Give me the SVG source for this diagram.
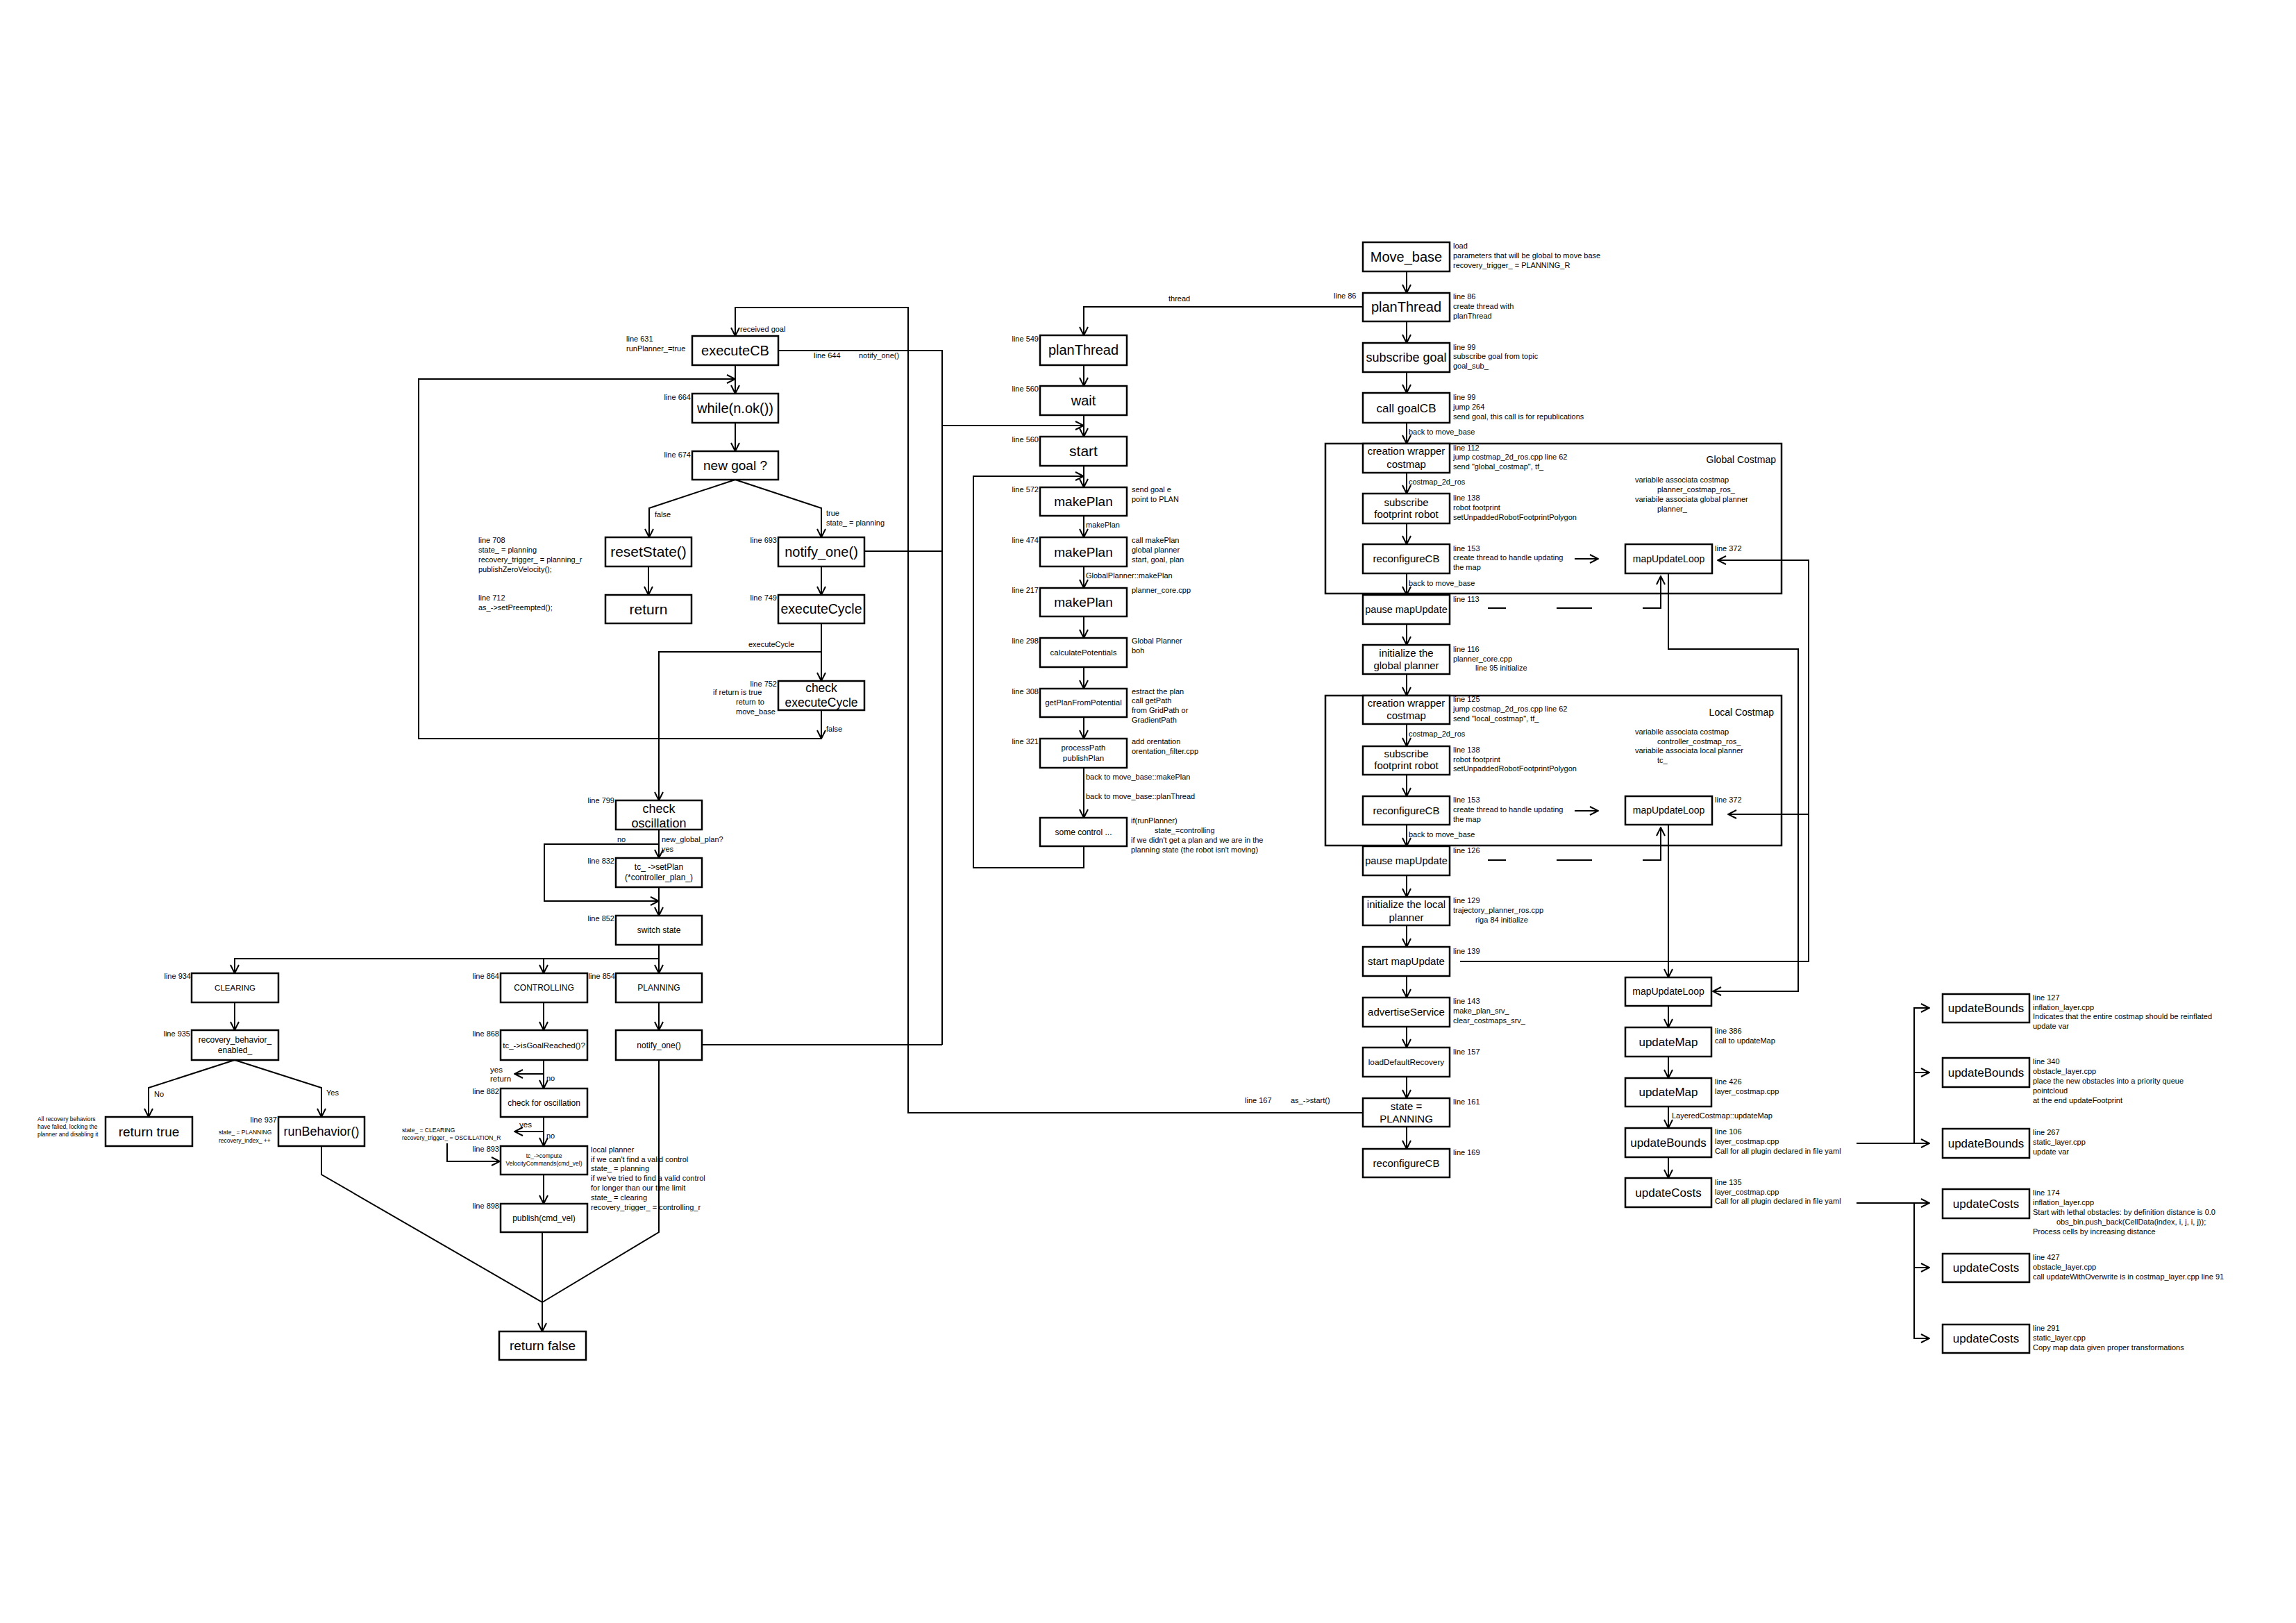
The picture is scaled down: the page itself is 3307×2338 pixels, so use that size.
<svg xmlns="http://www.w3.org/2000/svg" width="3307" height="2338" viewBox="0 0 3307 2338">
<style>
.bg{fill:#fff}
.box{fill:#fff;stroke:#000;stroke-width:2.5}
.frame{fill:none;stroke:#000;stroke-width:2.5}
.ln{fill:none;stroke:#000;stroke-width:2}
.arr{marker-end:url(#ah)}
text{font-family:"Liberation Sans",Arial,sans-serif;fill:#000}
.l{text-anchor:middle}
.t{font-size:11px}
.r{text-anchor:end}
.s8{font-size:8.5px}
.s11{font-size:11.5px}
.s12{font-size:12px}
.s14{font-size:14px}
.s15{font-size:15px}
.s17{font-size:17px}
.s18{font-size:18px}
.s19{font-size:19px}
.s20{font-size:20px}
.s21{font-size:21px}
</style>
<defs>
<marker id="ah" markerUnits="userSpaceOnUse" markerWidth="14" markerHeight="14" viewBox="0 0 14 14" refX="13" refY="7" orient="auto"><path d="M1,1 L13,7 L1,13" fill="none" stroke="#000" stroke-width="2"/></marker>
</defs>
<rect class="bg" x="0" y="0" width="3307" height="2338"/>

<g id="frames">
<rect class="frame" x="1909" y="639" width="657" height="216"/>
<text class="s14 r" x="2558" y="667">Global Costmap</text>
<rect class="frame" x="1909" y="1002" width="657" height="216"/>
<text class="s14 r" x="2555" y="1031">Local Costmap</text>
</g>

<g id="connectors">
<path class="ln arr" d="M1059,526 V567"/>
<path class="ln arr" d="M1183,1023 V1064"/>
<path class="ln arr" d="M1183,1064 H603 V546 H1059"/>
<path class="ln arr" d="M1059,609 V650"/>
<path class="ln arr" d="M1059,691 L935,732 V774"/>
<path class="ln arr" d="M1059,691 L1183,732 V774"/>
<path class="ln arr" d="M934,816 V857"/>
<path class="ln arr" d="M1183,816 V857"/>
<path class="ln arr" d="M1183,898 V981"/>
<path class="ln arr" d="M1183,939 H949 V1153"/>
<path class="ln arr" d="M949,1195 V1236"/>
<path class="ln arr" d="M949,1216 H784 V1298 H949"/>
<path class="ln arr" d="M949,1278 V1319"/>
<path class="ln arr" d="M949,1361 V1402"/>
<path class="ln arr" d="M949,1381 H338 V1402"/>
<path class="ln arr" d="M783,1381 V1402"/>
<path class="ln arr" d="M338,1444 V1484"/>
<path class="ln arr" d="M338,1527 L214,1567 V1609"/>
<path class="ln arr" d="M338,1527 L463,1567 V1609"/>
<path class="ln arr" d="M463,1651 V1692 L781,1876 V1918"/>
<path class="ln arr" d="M783,1444 V1484"/>
<path class="ln arr" d="M783,1527 V1568"/>
<path class="ln arr" d="M783,1547 H741"/>
<path class="ln arr" d="M783,1609 V1651"/>
<path class="ln arr" d="M783,1630 H741"/>
<path class="ln arr" d="M644,1647 V1673 H720"/>
<path class="ln arr" d="M783,1692 V1734"/>
<path class="ln" d="M781,1775 V1876"/>
<path class="ln arr" d="M949,1444 V1484"/>
<path class="ln" d="M949,1527 V1775 L781,1876"/>
<path class="ln" d="M1012,1505 H1357"/>
<path class="ln" d="M1245,794 H1357"/>
<path class="ln" d="M1121,505 H1357 V1505"/>
<path class="ln arr" d="M1357,613 H1561"/>
<path class="ln arr" d="M1963,1603 H1308 V443 H1059 V484"/>
<path class="ln arr" d="M1963,442 H1561 V483"/>
<path class="ln arr" d="M1561,526 V556"/>
<path class="ln arr" d="M1561,598 V629"/>
<path class="ln arr" d="M1561,671 V702"/>
<path class="ln arr" d="M1561,743 V774"/>
<path class="ln arr" d="M1561,816 V847"/>
<path class="ln arr" d="M1561,888 V919"/>
<path class="ln arr" d="M1561,961 V992"/>
<path class="ln arr" d="M1561,1033 V1064"/>
<path class="ln arr" d="M1561,1106 V1178"/>
<path class="ln arr" d="M1561,1219 V1250 H1402 V686 H1561"/>
<path class="ln arr" d="M2026,391 V422"/>
<path class="ln arr" d="M2026,463 V494"/>
<path class="ln arr" d="M2026,536 V566"/>
<path class="ln arr" d="M2026,609 V639"/>
<path class="ln arr" d="M2026,681 V711"/>
<path class="ln arr" d="M2026,754 V784"/>
<path class="ln arr" d="M2026,826 V857"/>
<path class="ln arr" d="M2026,899 V929"/>
<path class="ln arr" d="M2026,971 V1002"/>
<path class="ln arr" d="M2026,1043 V1075"/>
<path class="ln arr" d="M2026,1116 V1147"/>
<path class="ln arr" d="M2026,1188 V1219"/>
<path class="ln arr" d="M2026,1261 V1292"/>
<path class="ln arr" d="M2026,1333 V1364"/>
<path class="ln arr" d="M2026,1406 V1437"/>
<path class="ln arr" d="M2026,1479 V1509"/>
<path class="ln arr" d="M2026,1551 V1582"/>
<path class="ln arr" d="M2026,1623 V1655"/>
<path class="ln arr" d="M2268,805 H2302"/>
<path class="ln arr" d="M2268,1168 H2302"/>
<path class="ln arr" d="M2143,876 H2169 M2242,876 H2293 M2366,876 H2392 V830"/>
<path class="ln arr" d="M2143,1239 H2169 M2242,1239 H2293 M2366,1239 H2392 V1192"/>
<path class="ln arr" d="M2403,826 V935 H2590 V1428 H2467"/>
<path class="ln arr" d="M2403,1188 V1408"/>
<path class="ln arr" d="M2103,1385 H2605 V807 H2474"/>
<path class="ln arr" d="M2605,1173 H2489"/>
<path class="ln arr" d="M2403,1449 V1480"/>
<path class="ln arr" d="M2403,1522 V1553"/>
<path class="ln arr" d="M2403,1594 V1625"/>
<path class="ln arr" d="M2403,1667 V1697"/>
<path class="ln arr" d="M2674,1647 H2779"/>
<path class="ln arr" d="M2757,1647 V1452 H2779"/>
<path class="ln arr" d="M2757,1545 H2779"/>
<path class="ln arr" d="M2674,1733 H2779"/>
<path class="ln arr" d="M2757,1733 V1928 H2779"/>
<path class="ln arr" d="M2757,1826 H2779"/>

<text class="t" x="1066" y="478">received goal</text>
<text class="t" x="1172" y="516">line 644</text>
<text class="t" x="1237" y="516">notify_one()</text>
<text class="t" x="943" y="745">false</text>
<text class="t" x="1190" y="743">true</text>
<text class="t" x="1190" y="757">state_ = planning</text>
<text class="t" x="1078" y="932">executeCycle</text>
<text class="t" x="1190" y="1054">false</text>
<text class="t" x="889" y="1213">no</text>
<text class="t" x="953" y="1213">new_global_plan?</text>
<text class="t" x="953" y="1227">yes</text>
<text class="t" x="222" y="1580">No</text>
<text class="t" x="470" y="1578">Yes</text>
<text class="s11" x="706" y="1545">yes</text>
<text class="s11" x="706" y="1558">return</text>
<text class="t" x="787" y="1557">no</text>
<text class="s11" x="748" y="1624">yes</text>
<text class="t" x="787" y="1640">no</text>
<text class="t" x="1683" y="434">thread</text>
<text class="t" x="1921" y="430">line 86</text>
<text class="t" x="1564" y="760">makePlan</text>
<text class="t" x="1564" y="833">GlobalPlanner::makePlan</text>
<text class="t" x="1564" y="1123">back to move_base::makePlan</text>
<text class="t" x="1564" y="1151">back to move_base::planThread</text>
<text class="t" x="2029" y="626">back to move_base</text>
<text class="t" x="2029" y="698">costmap_2d_ros</text>
<text class="t" x="2029" y="844">back to move_base</text>
<text class="t" x="2029" y="1061">costmap_2d_ros</text>
<text class="t" x="2029" y="1206">back to move_base</text>
<text class="t" x="2408" y="1611">LayeredCostmap::updateMap</text>
<text class="t" x="1793" y="1589">line 167</text>
<text class="t" x="1859" y="1589">as_-&gt;start()</text>
</g>

<g id="n_executeCB">
<rect class="box" x="997" y="484" width="124" height="42"/>
<text class="l s20" x="1059" y="512">executeCB</text>
<text class="t" x="902" y="492">line 631</text>
<text class="t" x="902" y="506">runPlanner_=true</text>
</g>
<g id="n_while">
<rect class="box" x="997" y="567" width="124" height="42"/>
<text class="l s20" x="1059" y="595">while(n.ok())</text>
<text class="t r" x="995" y="576">line 664</text>
</g>
<g id="n_newgoal">
<rect class="box" x="997" y="650" width="124" height="41"/>
<text class="l s19" x="1059" y="677">new goal ?</text>
<text class="t r" x="995" y="659">line 674</text>
</g>
<g id="n_resetState">
<rect class="box" x="872" y="774" width="124" height="42"/>
<text class="l s21" x="934" y="802">resetState()</text>
<text class="t" x="689" y="782">line 708</text>
<text class="t" x="689" y="796">state_ = planning</text>
<text class="t" x="689" y="810">recovery_trigger_ = planning_r</text>
<text class="t" x="689" y="824">publishZeroVelocity();</text>
</g>
<g id="n_notify1">
<rect class="box" x="1121" y="774" width="124" height="42"/>
<text class="l s20" x="1183" y="802">notify_one()</text>
<text class="t r" x="1119" y="782">line 693</text>
</g>
<g id="n_return">
<rect class="box" x="872" y="857" width="124" height="41"/>
<text class="l s21" x="934" y="885">return</text>
<text class="t" x="689" y="865">line 712</text>
<text class="t" x="689" y="879">as_-&gt;setPreempted();</text>
</g>
<g id="n_executeCycle">
<rect class="box" x="1121" y="857" width="124" height="41"/>
<text class="l" style="font-size:19.5px" x="1183" y="884">executeCycle</text>
<text class="t r" x="1119" y="865">line 749</text>
</g>
<g id="n_checkExecuteCycle">
<rect class="box" x="1121" y="981" width="124" height="42"/>
<text class="l" style="font-size:17.5px" x="1183" y="997">check</text>
<text class="l" style="font-size:17.5px" x="1183" y="1018">executeCycle</text>
<text class="t r" x="1119" y="989">line 752</text>
<text class="t" x="1027" y="1001">if return is true</text>
<text class="t" x="1060" y="1015">return to</text>
<text class="t" x="1060" y="1029">move_base</text>
</g>
<g id="n_checkOscillation">
<rect class="box" x="887" y="1153" width="124" height="42"/>
<text class="l s18" x="949" y="1171">check</text>
<text class="l s18" x="949" y="1192">oscillation</text>
<text class="t r" x="885" y="1157">line 799</text>
</g>
<g id="n_setPlan">
<rect class="box" x="887" y="1236" width="124" height="42"/>
<text class="l s12" x="949" y="1253">tc_ -&gt;setPlan</text>
<text class="l s12" x="949" y="1268">(*controller_plan_)</text>
<text class="t r" x="885" y="1244">line 832</text>
</g>
<g id="n_switchState">
<rect class="box" x="887" y="1319" width="124" height="42"/>
<text class="l s12" x="949" y="1344">switch state</text>
<text class="t r" x="885" y="1327">line 852</text>
</g>
<g id="n_PLANNING">
<rect class="box" x="887" y="1402" width="124" height="42"/>
<text class="l s12" x="949" y="1427">PLANNING</text>
<text class="t r" x="886" y="1410">line 854</text>
</g>
<g id="n_notify2">
<rect class="box" x="887" y="1484" width="124" height="43"/>
<text class="l s12" x="949" y="1510">notify_one()</text>
</g>
<g id="n_CONTROLLING">
<rect class="box" x="721" y="1402" width="125" height="42"/>
<text class="l s12" x="783.5" y="1427">CONTROLLING</text>
<text class="t r" x="719" y="1410">line 864</text>
</g>
<g id="n_isGoalReached">
<rect class="box" x="721" y="1484" width="125" height="43"/>
<text class="l s11" x="783.5" y="1510">tc_-&gt;isGoalReached()?</text>
<text class="t r" x="719" y="1493">line 868</text>
</g>
<g id="n_checkForOscillation">
<rect class="box" x="721" y="1568" width="125" height="41"/>
<text class="l s12" x="783.5" y="1593">check for oscillation</text>
<text class="t r" x="719" y="1576">line 882</text>
<text class="s8" x="579" y="1631">state_ = CLEARING</text>
<text class="s8" x="579" y="1642">recovery_trigger_ = OSCILLATION_R</text>
</g>
<g id="n_computeVelocity">
<rect class="box" x="721" y="1651" width="125" height="41"/>
<text class="l s8" x="783.5" y="1668">tc_-&gt;compute</text>
<text class="l s8" x="783.5" y="1679">VelocityCommands(cmd_vel)</text>
<text class="t r" x="719" y="1659">line 893</text>
<text class="t" x="851" y="1660">local planner</text>
<text class="t" x="851" y="1674">if we can't find a valid control</text>
<text class="t" x="851" y="1687">state_ = planning</text>
<text class="t" x="851" y="1701">if we've tried to find a valid control</text>
<text class="t" x="851" y="1715">for longer than our time limit</text>
<text class="t" x="851" y="1729">state_ = clearing</text>
<text class="t" x="851" y="1743">recovery_trigger_ = controlling_r</text>
</g>
<g id="n_publish">
<rect class="box" x="721" y="1734" width="125" height="41"/>
<text class="l s12" x="783.5" y="1759">publish(cmd_vel)</text>
<text class="t r" x="719" y="1741">line 898</text>
</g>
<g id="n_returnFalse">
<rect class="box" x="719" y="1918" width="125" height="41"/>
<text class="l s19" x="781.5" y="1945">return false</text>
</g>
<g id="n_CLEARING">
<rect class="box" x="276" y="1402" width="125" height="42"/>
<text class="l s11" x="338.5" y="1427">CLEARING</text>
<text class="t r" x="275" y="1410">line 934</text>
</g>
<g id="n_recoveryEnabled">
<rect class="box" x="276" y="1484" width="125" height="43"/>
<text class="l s12" x="338.5" y="1502">recovery_behavior_</text>
<text class="l s12" x="338.5" y="1517">enabled_</text>
<text class="t r" x="274" y="1493">line 935</text>
</g>
<g id="n_returnTrue">
<rect class="box" x="152" y="1609" width="125" height="42"/>
<text class="l s19" x="214.5" y="1637">return true</text>
<text class="s8" x="54" y="1615">All recovery behaviors</text>
<text class="s8" x="54" y="1626">have falied, locking the</text>
<text class="s8" x="54" y="1637">planner and disabling it</text>
</g>
<g id="n_runBehavior">
<rect class="box" x="401" y="1609" width="124" height="42"/>
<text class="l s18" x="463" y="1636">runBehavior()</text>
<text class="t r" x="399" y="1617">line 937</text>
<text class="s8" x="315" y="1634">state_ = PLANNING</text>
<text class="s8" x="315" y="1646">recovery_index_ ++</text>
</g>

<g id="n_planThreadM">
<rect class="box" x="1498" y="483" width="125" height="43"/>
<text class="l s20" x="1560.5" y="511">planThread</text>
<text class="t r" x="1496" y="492">line 549</text>
</g>
<g id="n_wait">
<rect class="box" x="1498" y="556" width="125" height="42"/>
<text class="l s20" x="1560.5" y="584">wait</text>
<text class="t r" x="1496" y="564">line 560</text>
</g>
<g id="n_start">
<rect class="box" x="1498" y="629" width="125" height="42"/>
<text class="l s21" x="1560.5" y="657">start</text>
<text class="t r" x="1496" y="637">line 560</text>
</g>
<g id="n_makePlan1">
<rect class="box" x="1498" y="702" width="125" height="41"/>
<text class="l s19" x="1560.5" y="729">makePlan</text>
<text class="t r" x="1496" y="709">line 572</text>
<text class="t" x="1630" y="709">send goal e</text>
<text class="t" x="1630" y="723">point to PLAN</text>
</g>
<g id="n_makePlan2">
<rect class="box" x="1498" y="774" width="125" height="42"/>
<text class="l s19" x="1560.5" y="802">makePlan</text>
<text class="t r" x="1496" y="782">line 474</text>
<text class="t" x="1630" y="782">call makePlan</text>
<text class="t" x="1630" y="796">global planner</text>
<text class="t" x="1630" y="810">start, goal, plan</text>
</g>
<g id="n_makePlan3">
<rect class="box" x="1498" y="847" width="125" height="41"/>
<text class="l s19" x="1560.5" y="874">makePlan</text>
<text class="t r" x="1496" y="854">line 217</text>
<text class="t" x="1630" y="854">planner_core.cpp</text>
</g>
<g id="n_calculatePotentials">
<rect class="box" x="1498" y="919" width="125" height="42"/>
<text class="l s11" x="1560.5" y="944">calculatePotentials</text>
<text class="t r" x="1496" y="927">line 298</text>
<text class="t" x="1630" y="927">Global Planner</text>
<text class="t" x="1630" y="941">boh</text>
</g>
<g id="n_getPlanFromPotential">
<rect class="box" x="1498" y="992" width="125" height="41"/>
<text class="l s11" x="1560.5" y="1016">getPlanFromPotential</text>
<text class="t r" x="1496" y="1000">line 308</text>
<text class="t" x="1630" y="1000">estract the plan</text>
<text class="t" x="1630" y="1013">call getPath</text>
<text class="t" x="1630" y="1027">from GridPath or</text>
<text class="t" x="1630" y="1041">GradientPath</text>
</g>
<g id="n_processPath">
<rect class="box" x="1498" y="1064" width="125" height="42"/>
<text class="l s11" x="1560.5" y="1081">processPath</text>
<text class="l s11" x="1560.5" y="1096">publishPlan</text>
<text class="t r" x="1496" y="1072">line 321</text>
<text class="t" x="1630" y="1072">add orentation</text>
<text class="t" x="1630" y="1086">orentation_filter.cpp</text>
</g>
<g id="n_someControl">
<rect class="box" x="1498" y="1178" width="125" height="41"/>
<text class="l s12" x="1560.5" y="1203">some control ...</text>
<text class="t" x="1629" y="1186">if(runPlanner)</text>
<text class="t" x="1663" y="1200">state_=controlling</text>
<text class="t" x="1629" y="1214">if we didn't get a plan and we are in the</text>
<text class="t" x="1629" y="1228">planning state (the robot isn't moving)</text>
</g>

<g id="n_Move_base">
<rect class="box" x="1963" y="349" width="125" height="42"/>
<text class="l s20" x="2025.5" y="377">Move_base</text>
<text class="t" x="2093" y="358">load</text>
<text class="t" x="2093" y="372">parameters that will be global to move base</text>
<text class="t" x="2093" y="386">recovery_trigger_ = PLANNING_R</text>
</g>
<g id="n_planThreadR">
<rect class="box" x="1963" y="422" width="125" height="41"/>
<text class="l s20" x="2025.5" y="449">planThread</text>
<text class="t" x="2093" y="431">line 86</text>
<text class="t" x="2093" y="445">create thread with</text>
<text class="t" x="2093" y="459">planThread</text>
</g>
<g id="n_subscribeGoal">
<rect class="box" x="1963" y="494" width="125" height="42"/>
<text class="l s18" x="2025.5" y="521">subscribe goal</text>
<text class="t" x="2093" y="504">line 99</text>
<text class="t" x="2093" y="517">subscribe goal from topic</text>
<text class="t" x="2093" y="531">goal_sub_</text>
</g>
<g id="n_callGoalCB">
<rect class="box" x="1963" y="566" width="125" height="43"/>
<text class="l s17" x="2025.5" y="594">call goalCB</text>
<text class="t" x="2093" y="576">line 99</text>
<text class="t" x="2093" y="590">jump 264</text>
<text class="t" x="2093" y="604">send goal, this call is for republications</text>
</g>
<g id="n_creationGlobal">
<rect class="box" x="1963" y="639" width="125" height="42"/>
<text class="l s15" x="2025.5" y="655">creation wrapper</text>
<text class="l s15" x="2025.5" y="674">costmap</text>
<text class="t" x="2093" y="649">line 112</text>
<text class="t" x="2093" y="662">jump costmap_2d_ros.cpp line 62</text>
<text class="t" x="2093" y="676">send "global_costmap", tf_</text>
<text class="t" x="2355" y="695">variabile associata costmap</text>
<text class="t" x="2387" y="709">planner_costmap_ros_</text>
<text class="t" x="2355" y="723">variabile associata global planner</text>
<text class="t" x="2387" y="737">planner_</text>
</g>
<g id="n_subscribeFootprintGlobal">
<rect class="box" x="1963" y="711" width="125" height="43"/>
<text class="l s15" x="2025.5" y="729">subscribe</text>
<text class="l s15" x="2025.5" y="746">footprint robot</text>
<text class="t" x="2093" y="721">line 138</text>
<text class="t" x="2093" y="735">robot footprint</text>
<text class="t" x="2093" y="749">setUnpaddedRobotFootprintPolygon</text>
</g>
<g id="n_reconfigureGlobal">
<rect class="box" x="1963" y="784" width="125" height="42"/>
<text class="l s15" x="2025.5" y="810">reconfigureCB</text>
<text class="t" x="2093" y="794">line 153</text>
<text class="t" x="2093" y="807">create thread to handle updating</text>
<text class="t" x="2093" y="821">the map</text>
</g>
<g id="n_mapUpdateLoopGlobal">
<rect class="box" x="2341" y="784" width="125" height="42"/>
<text class="l s14" x="2403.5" y="810">mapUpdateLoop</text>
<text class="t" x="2470" y="794">line 372</text>
</g>
<g id="n_pauseGlobal">
<rect class="box" x="1963" y="857" width="125" height="42"/>
<text class="l" style="font-size:14.5px" x="2025.5" y="883">pause mapUpdate</text>
<text class="t" x="2093" y="867">line 113</text>
</g>
<g id="n_initGlobalPlanner">
<rect class="box" x="1963" y="929" width="125" height="42"/>
<text class="l s15" x="2025.5" y="946">initialize the</text>
<text class="l s15" x="2025.5" y="964">global planner</text>
<text class="t" x="2093" y="939">line 116</text>
<text class="t" x="2093" y="953">planner_core.cpp</text>
<text class="t" x="2125" y="966">line 95 initialize</text>
</g>
<g id="n_creationLocal">
<rect class="box" x="1963" y="1002" width="125" height="41"/>
<text class="l s15" x="2025.5" y="1018">creation wrapper</text>
<text class="l s15" x="2025.5" y="1036">costmap</text>
<text class="t" x="2093" y="1011">line 125</text>
<text class="t" x="2093" y="1025">jump costmap_2d_ros.cpp line 62</text>
<text class="t" x="2093" y="1039">send "local_costmap", tf_</text>
<text class="t" x="2355" y="1058">variabile associata costmap</text>
<text class="t" x="2387" y="1072">controller_costmap_ros_</text>
<text class="t" x="2355" y="1085">variabile associata local planner</text>
<text class="t" x="2387" y="1099">tc_</text>
</g>
<g id="n_subscribeFootprintLocal">
<rect class="box" x="1963" y="1075" width="125" height="41"/>
<text class="l s15" x="2025.5" y="1091">subscribe</text>
<text class="l s15" x="2025.5" y="1108">footprint robot</text>
<text class="t" x="2093" y="1084">line 138</text>
<text class="t" x="2093" y="1098">robot footprint</text>
<text class="t" x="2093" y="1111">setUnpaddedRobotFootprintPolygon</text>
</g>
<g id="n_reconfigureLocal">
<rect class="box" x="1963" y="1147" width="125" height="41"/>
<text class="l s15" x="2025.5" y="1173">reconfigureCB</text>
<text class="t" x="2093" y="1156">line 153</text>
<text class="t" x="2093" y="1170">create thread to handle updating</text>
<text class="t" x="2093" y="1184">the map</text>
</g>
<g id="n_mapUpdateLoopLocal">
<rect class="box" x="2341" y="1147" width="125" height="41"/>
<text class="l s14" x="2403.5" y="1172">mapUpdateLoop</text>
<text class="t" x="2470" y="1156">line 372</text>
</g>
<g id="n_pauseLocal">
<rect class="box" x="1963" y="1219" width="125" height="42"/>
<text class="l" style="font-size:14.5px" x="2025.5" y="1245">pause mapUpdate</text>
<text class="t" x="2093" y="1229">line 126</text>
</g>
<g id="n_initLocalPlanner">
<rect class="box" x="1963" y="1292" width="125" height="41"/>
<text class="l s15" x="2025.5" y="1308">initialize the local</text>
<text class="l s15" x="2025.5" y="1327">planner</text>
<text class="t" x="2093" y="1301">line 129</text>
<text class="t" x="2093" y="1315">trajectory_planner_ros.cpp</text>
<text class="t" x="2125" y="1329">riga 84 initialize</text>
</g>
<g id="n_startMapUpdate">
<rect class="box" x="1963" y="1364" width="125" height="42"/>
<text class="l s15" x="2025.5" y="1390">start mapUpdate</text>
<text class="t" x="2093" y="1374">line 139</text>
</g>
<g id="n_advertiseService">
<rect class="box" x="1963" y="1437" width="125" height="42"/>
<text class="l s15" x="2025.5" y="1463">advertiseService</text>
<text class="t" x="2093" y="1446">line 143</text>
<text class="t" x="2093" y="1460">make_plan_srv_</text>
<text class="t" x="2093" y="1474">clear_costmaps_srv_</text>
</g>
<g id="n_loadDefaultRecovery">
<rect class="box" x="1963" y="1509" width="125" height="42"/>
<text class="l" style="font-size:11.8px" x="2025.5" y="1534">loadDefaultRecovery</text>
<text class="t" x="2093" y="1519">line 157</text>
</g>
<g id="n_statePlanning">
<rect class="box" x="1963" y="1582" width="125" height="41"/>
<text class="l s15" x="2025.5" y="1599">state =</text>
<text class="l s15" x="2025.5" y="1617">PLANNING</text>
<text class="t" x="2093" y="1591">line 161</text>
</g>
<g id="n_reconfigureEnd">
<rect class="box" x="1963" y="1655" width="125" height="41"/>
<text class="l s15" x="2025.5" y="1681">reconfigureCB</text>
<text class="t" x="2093" y="1664">line 169</text>
</g>

<g id="n_mapUpdateLoop3">
<rect class="box" x="2341" y="1408" width="124" height="41"/>
<text class="l s14" x="2403" y="1433">mapUpdateLoop</text>
</g>
<g id="n_updateMap1">
<rect class="box" x="2341" y="1480" width="124" height="42"/>
<text class="l s17" x="2403" y="1507">updateMap</text>
<text class="t" x="2470" y="1489">line 386</text>
<text class="t" x="2470" y="1503">call to updateMap</text>
</g>
<g id="n_updateMap2">
<rect class="box" x="2341" y="1553" width="124" height="41"/>
<text class="l s17" x="2403" y="1579">updateMap</text>
<text class="t" x="2470" y="1562">line 426</text>
<text class="t" x="2470" y="1576">layer_costmap.cpp</text>
</g>
<g id="n_updateBounds">
<rect class="box" x="2341" y="1625" width="124" height="42"/>
<text class="l s17" x="2403" y="1652">updateBounds</text>
<text class="t" x="2470" y="1634">line 106</text>
<text class="t" x="2470" y="1648">layer_costmap.cpp</text>
<text class="t" x="2470" y="1662">Call for all plugin declared in file yaml</text>
</g>
<g id="n_updateCosts">
<rect class="box" x="2341" y="1697" width="124" height="42"/>
<text class="l s17" x="2403" y="1724">updateCosts</text>
<text class="t" x="2470" y="1707">line 135</text>
<text class="t" x="2470" y="1721">layer_costmap.cpp</text>
<text class="t" x="2470" y="1734">Call for all plugin declared in file yaml</text>
</g>
<g id="n_updateBoundsInflation">
<rect class="box" x="2798" y="1432" width="125" height="41"/>
<text class="l s17" x="2860.5" y="1458">updateBounds</text>
<text class="t" x="2928" y="1441">line 127</text>
<text class="t" x="2928" y="1455">inflation_layer.cpp</text>
<text class="t" x="2928" y="1468">Indicates that the entire costmap should be reinflated</text>
<text class="t" x="2928" y="1482">update var</text>
</g>
<g id="n_updateBoundsObstacle">
<rect class="box" x="2798" y="1524" width="125" height="42"/>
<text class="l s17" x="2860.5" y="1551">updateBounds</text>
<text class="t" x="2928" y="1533">line 340</text>
<text class="t" x="2928" y="1547">obstacle_layer.cpp</text>
<text class="t" x="2928" y="1561">place the new obstacles into a priority queue</text>
<text class="t" x="2928" y="1575">pointcloud</text>
<text class="t" x="2928" y="1589">at the end updateFootprint</text>
</g>
<g id="n_updateBoundsStatic">
<rect class="box" x="2798" y="1626" width="125" height="42"/>
<text class="l s17" x="2860.5" y="1653">updateBounds</text>
<text class="t" x="2928" y="1635">line 267</text>
<text class="t" x="2928" y="1649">static_layer.cpp</text>
<text class="t" x="2928" y="1663">update var</text>
</g>
<g id="n_updateCostsInflation">
<rect class="box" x="2798" y="1713" width="125" height="42"/>
<text class="l s17" x="2860.5" y="1740">updateCosts</text>
<text class="t" x="2928" y="1722">line 174</text>
<text class="t" x="2928" y="1736">inflation_layer.cpp</text>
<text class="t" x="2928" y="1750">Start with lethal obstacles: by definition distance is 0.0</text>
<text class="t" x="2962" y="1764">obs_bin.push_back(CellData(index, i, j, i, j));</text>
<text class="t" x="2928" y="1778">Process cells by increasing distance</text>
</g>
<g id="n_updateCostsObstacle">
<rect class="box" x="2798" y="1806" width="125" height="41"/>
<text class="l s17" x="2860.5" y="1832">updateCosts</text>
<text class="t" x="2928" y="1815">line 427</text>
<text class="t" x="2928" y="1829">obstacle_layer.cpp</text>
<text class="t" x="2928" y="1843">call updateWithOverwrite is in costmap_layer.cpp line 91</text>
</g>
<g id="n_updateCostsStatic">
<rect class="box" x="2798" y="1908" width="125" height="41"/>
<text class="l s17" x="2860.5" y="1934">updateCosts</text>
<text class="t" x="2928" y="1917">line 291</text>
<text class="t" x="2928" y="1931">static_layer.cpp</text>
<text class="t" x="2928" y="1945">Copy map data given proper transformations</text>
</g>
</svg>
